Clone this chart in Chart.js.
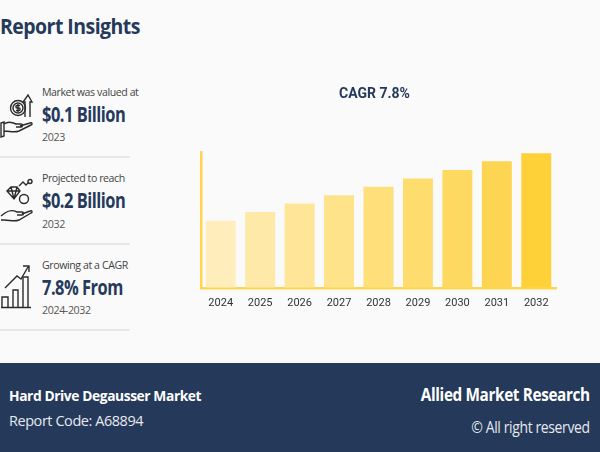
<!DOCTYPE html>
<html>
<head>
<meta charset="utf-8">
<script src="https://cdn.jsdelivr.net/npm/chart.js@4"></script>
<style>
  html, body { margin: 0; padding: 0; }
  body { position: relative; width: 600px; height: 452px; overflow: hidden; background: #fafafa; font-family: "Open Sans", sans-serif; }
  .txt { position: absolute; white-space: nowrap; line-height: 1; transform-origin: left top; }
  .title { left: 0; top: 14px; font-size: 22px; font-weight: 700; color: #25395b; letter-spacing: -0.6px; transform: scaleX(0.885); }
  .small { left: 42px; font-size: 11.5px; color: #444; letter-spacing: -0.45px; transform: scaleX(0.92); }
  .big { left: 42px; font-size: 20.5px; font-weight: 700; color: #25395b; letter-spacing: -0.6px; transform: scaleX(0.8); }
  .year { left: 42px; font-size: 11px; color: #555; letter-spacing: -0.4px; transform: scaleX(0.97); }
  .rule { position: absolute; left: 0; width: 130px; height: 2px; background: #e8e8e8; }
  #chartBox { position: absolute; left: 191px; top: 78px; width: 375px; height: 239px; }
  #footer { position: absolute; left: 0; top: 363px; width: 600px; height: 89px; background: #25395b; color: #fff; }
  .right { transform-origin: right top; transform: scaleX(0.9); }
  svg { position: absolute; fill: none; stroke: #2b2b2b; stroke-width: 1.4; }
</style>
</head>
<body>
<div class="txt title">Report Insights</div>

<svg style="left:0;top:90px" width="36" height="50" viewBox="0 0 36 50">
  <circle cx="18" cy="18" r="7.5"/><circle cx="18" cy="18" r="5"/>
  <path d="M18 14v8M20 15.500h-3c-1.500 0-1.500 2.500 0 2.500h2c1.500 0 1.500 2.500 0 2.500h-3"/>
  <path d="M25 27V12h-2l5-7 4 7h-2v15"/>
  <path d="M1 33l3-1v14l-3 1zM4 34c4-3 8-2 12 0h5c2 0 2 3 0 3h-5M20 36l10-3c2-1 3 1 1 2l-12 6c-5 2-9 0-15 0"/>
</svg>
<div class="txt small" style="top:86px">Market was valued at</div>
<div class="txt big" style="top:104px">$0.1 Billion</div>
<div class="txt year" style="top:131px">2023</div>
<div class="rule" style="top:156px"></div>

<svg style="left:0;top:178px" width="36" height="50" viewBox="0 0 36 50">
  <path d="M7 13l4-4h6l3 4-6 8zM7 13h13M11 9l3 12M17 9l-3 12"/>
  <path d="M19 8l4-4 3 3 3-3"/><circle cx="30" cy="3.500" r="2"/><circle cx="24" cy="21" r="4.500"/>
  <path d="M1 38l4-3c4-3 8-3 12-1h5c2 0 2 3 0 3h-5M22 36l8-3c2-1 3 1 1 2l-12 7c-5 2-9 0-15 0h-3"/>
</svg>
<div class="txt small" style="top:172px">Projected to reach</div>
<div class="txt big" style="top:190px">$0.2 Billion</div>
<div class="txt year" style="top:218px">2032</div>
<div class="rule" style="top:243px"></div>

<svg style="left:0;top:262px" width="36" height="50" viewBox="0 0 36 50">
  <path d="M2 45V35h6v10M13 45V28h5v17M23 45V15h5v30M1 45.500h30"/>
  <path d="M5 26L17 14l4 3 7-12M23 4h6v6"/>
</svg>
<div class="txt small" style="top:259px">Growing at a CAGR</div>
<div class="txt big" style="top:277px">7.8% From</div>
<div class="txt year" style="top:304px">2024-2032</div>
<div class="rule" style="top:329px"></div>

<div id="chartBox"><canvas id="cagrChart"></canvas></div>

<div id="footer">
  <div class="txt" style="left:9px;top:25px;font-size:15px;font-weight:700;letter-spacing:-0.45px;transform:scaleX(0.92)">Hard Drive Degausser Market</div>
  <div class="txt" style="left:9px;top:50px;font-size:15px;letter-spacing:-0.45px;color:#e6e9ee;transform:scaleX(0.965)">Report Code: A68894</div>
  <div class="txt right" style="right:10px;top:23px;font-size:17px;font-weight:700;letter-spacing:-0.4px">Allied Market Research</div>
  <div class="txt right" style="right:10px;top:57px;font-size:15.500px;letter-spacing:-0.4px;color:#e6e9ee">© All right reserved</div>
</div>

<script>
const years = ['2024', '2025', '2026', '2027', '2028', '2029', '2030', '2031', '2032'];
// USD billion
const marketValues = [0.100, 0.113, 0.126, 0.138, 0.151, 0.163, 0.176, 0.189, 0.201];
const barColors = ['#ffedbb', '#ffe9a9', '#fee597', '#fee38b', '#fedf7a', '#fedc6e', '#fed962', '#fed552', '#ffd139'];
const chartTitle = 'CAGR 7.8%';
const axisColor = '#ffd54f';

new Chart(document.getElementById('cagrChart'), {
  type: 'bar',
  data: {
    labels: years,
    datasets: [{
      data: marketValues,
      backgroundColor: barColors,
      categoryPercentage: 1,
      barPercentage: 0.76
    }]
  },
  options: {
    responsive: true,
    maintainAspectRatio: false,
    animation: false,
    layout: { padding: { left: 2, right: 10, top: 0, bottom: 6 } },
    plugins: {
      legend: { display: false },
      tooltip: { enabled: false },
      title: {
        display: true,
        text: chartTitle,
        color: '#25395b',
        font: { family: 'Roboto', size: 14, weight: '700' },
        padding: { top: 8, bottom: 49 }
      }
    },
    scales: {
      x: {
        grid: { display: false },
        border: { color: axisColor, width: 2.5 },
        ticks: {
          color: '#333',
          padding: 1,
          maxRotation: 0,
          font: { family: 'Roboto', size: 11 }
        }
      },
      y: {
        min: 0,
        max: 0.203,
        grid: { display: false },
        border: { color: axisColor, width: 2.5 },
        ticks: { display: false }
      }
    }
  }
});
</script>
</body>
</html>
